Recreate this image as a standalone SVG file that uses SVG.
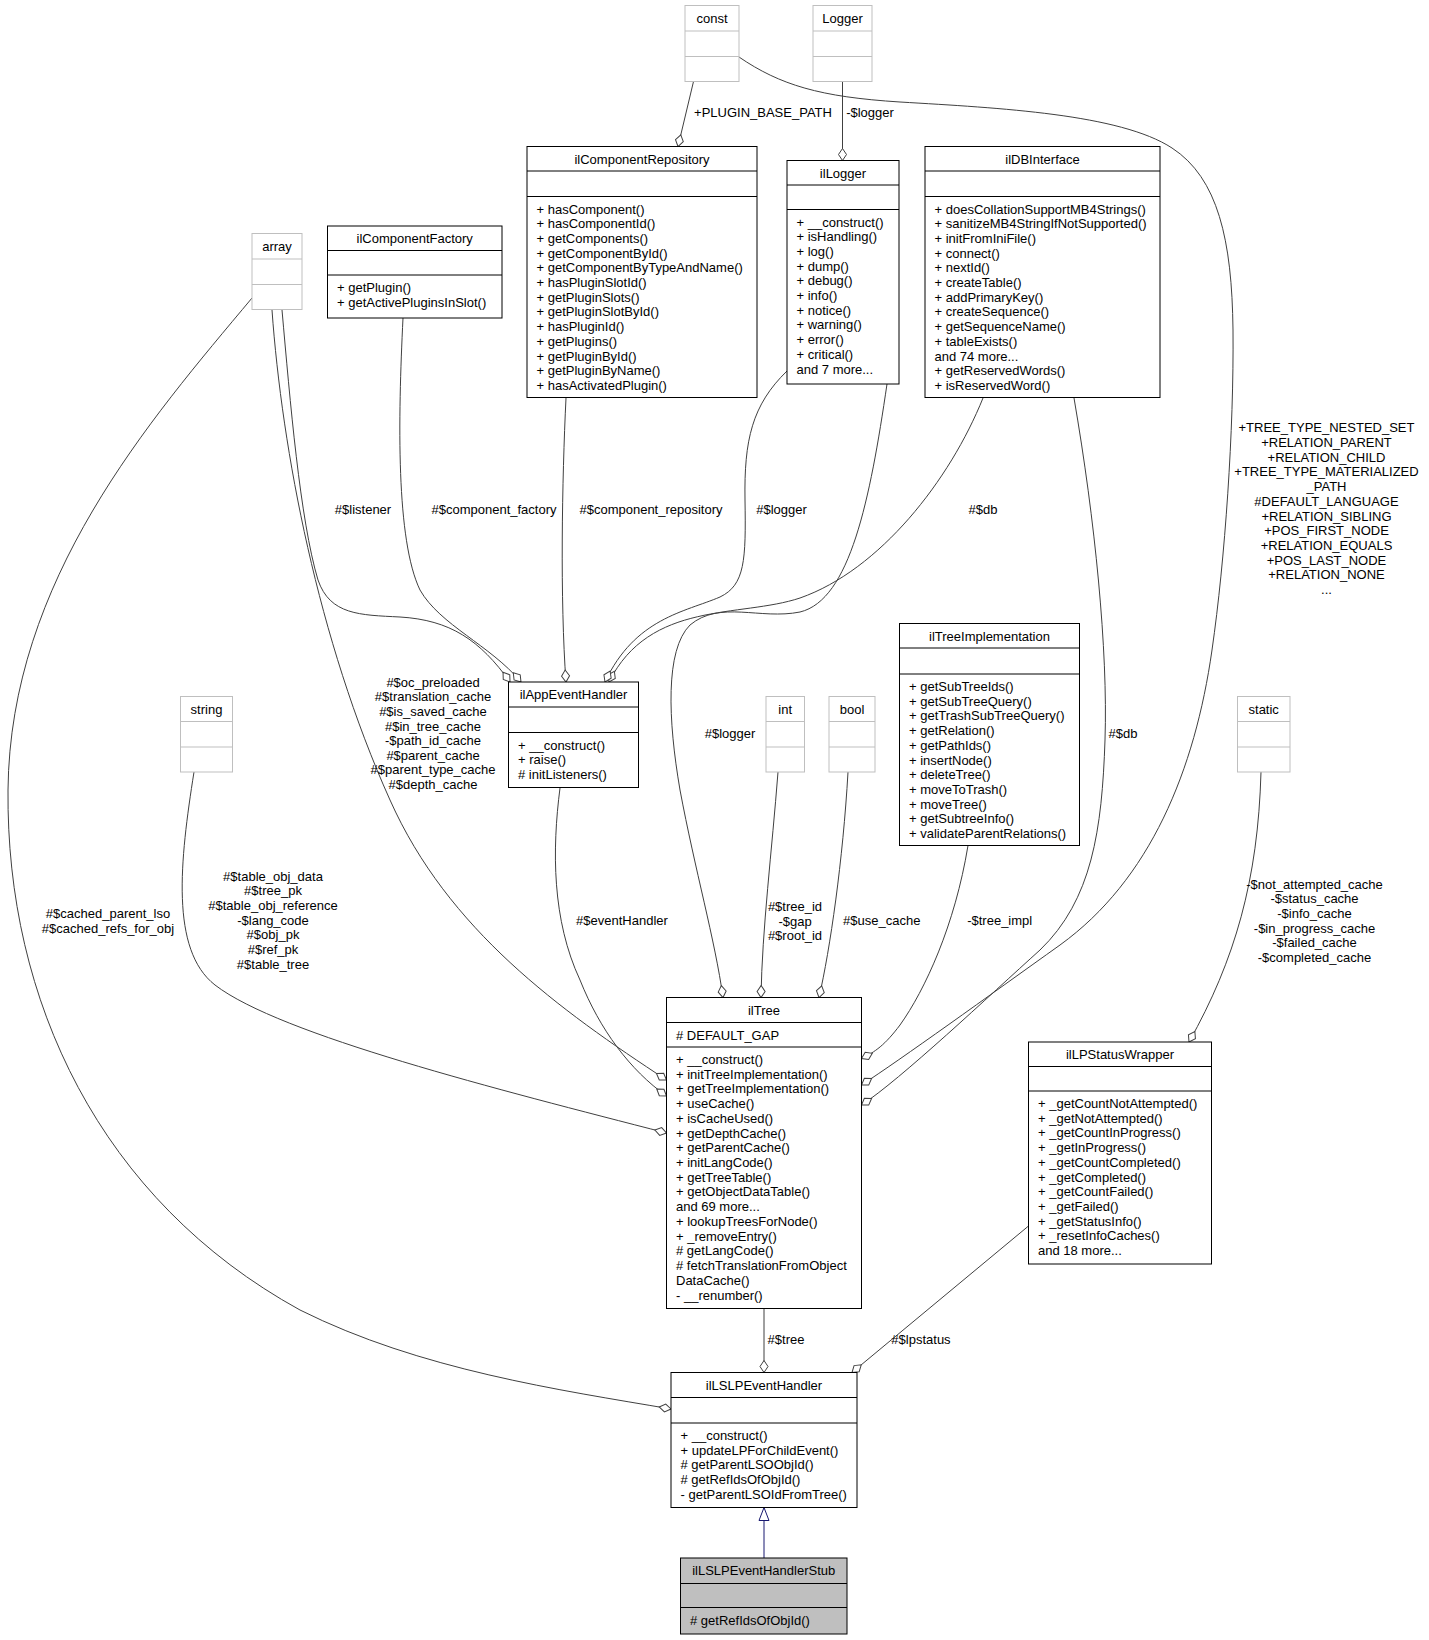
<svg xmlns="http://www.w3.org/2000/svg" width="1429" height="1640" viewBox="0 0 1429 1640">
<style>
text{font-family:"Liberation Sans",Arial,Helvetica,sans-serif;font-size:13px;fill:#000}
.c{text-anchor:middle}
.b{fill:#fff;stroke:#000;stroke-width:1}
.bl{stroke:#000;stroke-width:1}
.g{fill:#fff;stroke:#bfbfbf;stroke-width:1}
.gl{stroke:#bfbfbf;stroke-width:1}
.s{fill:#bfbfbf;stroke:#000;stroke-width:1}
.e{fill:none;stroke:#404040;stroke-width:1;marker-end:url(#d)}
.i{fill:none;stroke:#191970;stroke-width:1;marker-end:url(#t)}
</style>
<defs>
<marker id="d" markerUnits="userSpaceOnUse" markerWidth="16" markerHeight="12" refX="13" refY="6" orient="auto" viewBox="0 0 16 12"><path d="M1,6 L7,2 L13,6 L7,10 Z" fill="#fff" stroke="#404040"/></marker>
<marker id="t" markerUnits="userSpaceOnUse" markerWidth="16" markerHeight="14" refX="14" refY="7" orient="auto" viewBox="0 0 16 14"><path d="M1,2 L14,7 L1,12 Z" fill="#fff" stroke="#191970"/></marker>
</defs>
<rect width="1429" height="1640" fill="#fff"/>

<g id="edges">
<path class="e" d="M693.5,81.5 L678,146.5"/>
<path class="e" d="M842.5,81.5 L842.5,160.5"/>
<path class="e" d="M739,57 C780,85 820,97 900,102 C1000,108 1120,114 1172,148 C1218,178 1232,240 1233,330 C1234,430 1225,560 1212,650 C1195,770 1150,880 1060,945 C990,995 900,1060 861.5,1085"/>
<path class="e" d="M1074,398 C1095,520 1108,650 1105,740 C1102,830 1092,900 1040,950 C990,995 900,1080 861.5,1105"/>
<path class="e" d="M968,845.5 C955,925 925,990 900,1025 C885,1045 875,1052 861.5,1058.5"/>
<path class="e" d="M983,398 C950,480 880,570 800,598 C740,618 650,600 609,682"/>
<path class="e" d="M787,371 C752,405 744,440 745,500 C746,560 745,585 720,597 C685,612 635,618 605,682"/>
<path class="e" d="M887,384 C870,500 850,600 800,612 C760,620 720,600 690,625 C665,650 668,720 680,790 C695,870 715,940 723,997.5"/>
<path class="e" d="M566,398 C562,480 560,600 566,682"/>
<path class="e" d="M403,318 C398,420 396,540 420,590 C440,625 490,645 521,682"/>
<path class="e" d="M282,310 C290,400 300,520 318,580 C330,615 360,615 400,617 C450,620 480,640 510,682"/>
<path class="e" d="M272,310 C282,450 318,640 390,800 C448,930 560,1010 666.5,1080"/>
<path class="e" d="M560,788 C552,850 552,920 580,980 C600,1030 630,1070 666.5,1096"/>
<path class="e" d="M194,772 C180,860 170,950 215,985 C280,1035 500,1090 666.5,1133"/>
<path class="e" d="M252,298 C150,420 10,580 8,790 C6,1000 100,1200 300,1310 C420,1370 560,1390 671,1409"/>
<path class="e" d="M778,772 C772,850 762,930 761,997.5"/>
<path class="e" d="M848,772 C843,860 830,950 819,997.5"/>
<path class="e" d="M1261,772 C1258,880 1235,960 1189,1042"/>
<path class="e" d="M764,1308.5 L764,1372.5"/>
<path class="e" d="M1028.5,1226 L852,1372.5"/>
<path class="i" d="M764,1558 L764,1507.5"/>

<text class="c" x="763" y="116.5">+PLUGIN_BASE_PATH</text>
<text class="c" x="870" y="116.5">-$logger</text>
<text class="c" x="363" y="513.5">#$listener</text>
<text class="c" x="494" y="513.5">#$component_factory</text>
<text class="c" x="651" y="513.5">#$component_repository</text>
<text class="c" x="781.5" y="513.5">#$logger</text>
<text class="c" x="983" y="513.5">#$db</text>
<text class="c" x="1326.5" y="432.3"><tspan x="1326.5" dy="0">+TREE_TYPE_NESTED_SET</tspan><tspan x="1326.5" dy="14.7">+RELATION_PARENT</tspan><tspan x="1326.5" dy="14.7">+RELATION_CHILD</tspan><tspan x="1326.5" dy="14.7">+TREE_TYPE_MATERIALIZED</tspan><tspan x="1326.5" dy="14.7">_PATH</tspan><tspan x="1326.5" dy="14.7">#DEFAULT_LANGUAGE</tspan><tspan x="1326.5" dy="14.7">+RELATION_SIBLING</tspan><tspan x="1326.5" dy="14.7">+POS_FIRST_NODE</tspan><tspan x="1326.5" dy="14.7">+RELATION_EQUALS</tspan><tspan x="1326.5" dy="14.7">+POS_LAST_NODE</tspan><tspan x="1326.5" dy="14.7">+RELATION_NONE</tspan><tspan x="1326.5" dy="14.7">...</tspan></text>
<text class="c" x="433" y="686.8"><tspan x="433" dy="0">#$oc_preloaded</tspan><tspan x="433" dy="14.6">#$translation_cache</tspan><tspan x="433" dy="14.6">#$is_saved_cache</tspan><tspan x="433" dy="14.6">#$in_tree_cache</tspan><tspan x="433" dy="14.6">-$path_id_cache</tspan><tspan x="433" dy="14.6">#$parent_cache</tspan><tspan x="433" dy="14.6">#$parent_type_cache</tspan><tspan x="433" dy="14.6">#$depth_cache</tspan></text>
<text class="c" x="730" y="737.8">#$logger</text>
<text class="c" x="1123" y="737.5">#$db</text>
<text class="c" x="795" y="911"><tspan x="795" dy="0">#$tree_id</tspan><tspan x="795" dy="14.5">-$gap</tspan><tspan x="795" dy="14.5">#$root_id</tspan></text>
<text class="c" x="881.7" y="925.2">#$use_cache</text>
<text class="c" x="999.7" y="925.2">-$tree_impl</text>
<text class="c" x="622" y="925.2">#$eventHandler</text>
<text class="c" x="273" y="880.5"><tspan x="273" dy="0">#$table_obj_data</tspan><tspan x="273" dy="14.7">#$tree_pk</tspan><tspan x="273" dy="14.7">#$table_obj_reference</tspan><tspan x="273" dy="14.7">-$lang_code</tspan><tspan x="273" dy="14.7">#$obj_pk</tspan><tspan x="273" dy="14.7">#$ref_pk</tspan><tspan x="273" dy="14.7">#$table_tree</tspan></text>
<text class="c" x="108" y="917.8"><tspan x="108" dy="0">#$cached_parent_lso</tspan><tspan x="108" dy="14.7">#$cached_refs_for_obj</tspan></text>
<text class="c" x="1314.5" y="888.5"><tspan x="1314.5" dy="0">-$not_attempted_cache</tspan><tspan x="1314.5" dy="14.7">-$status_cache</tspan><tspan x="1314.5" dy="14.7">-$info_cache</tspan><tspan x="1314.5" dy="14.7">-$in_progress_cache</tspan><tspan x="1314.5" dy="14.7">-$failed_cache</tspan><tspan x="1314.5" dy="14.7">-$completed_cache</tspan></text>
<text class="c" x="786" y="1343.8">#$tree</text>
<text class="c" x="921" y="1343.8">#$lpstatus</text>
</g>

<g id="const">
<rect class="g" x="685" y="5.5" width="54" height="76"/>
<line class="gl" x1="685" y1="31" x2="739" y2="31"/><line class="gl" x1="685" y1="56.5" x2="739" y2="56.5"/>
<text class="c" x="712" y="22.5">const</text>
</g>
<g id="Logger">
<rect class="g" x="813" y="5.5" width="59" height="76"/>
<line class="gl" x1="813" y1="31" x2="872" y2="31"/><line class="gl" x1="813" y1="56.5" x2="872" y2="56.5"/>
<text class="c" x="842.5" y="22.5">Logger</text>
</g>
<g id="ilComponentRepository">
<rect class="b" x="527" y="146.5" width="230" height="251"/>
<line class="bl" x1="527" y1="171" x2="757" y2="171"/><line class="bl" x1="527" y1="196.5" x2="757" y2="196.5"/>
<text class="c" x="642" y="163.5">ilComponentRepository</text>
<text x="536.5" y="213.5"><tspan x="536.5" dy="0">+ hasComponent()</tspan><tspan x="536.5" dy="14.7">+ hasComponentId()</tspan><tspan x="536.5" dy="14.7">+ getComponents()</tspan><tspan x="536.5" dy="14.7">+ getComponentById()</tspan><tspan x="536.5" dy="14.7">+ getComponentByTypeAndName()</tspan><tspan x="536.5" dy="14.7">+ hasPluginSlotId()</tspan><tspan x="536.5" dy="14.7">+ getPluginSlots()</tspan><tspan x="536.5" dy="14.7">+ getPluginSlotById()</tspan><tspan x="536.5" dy="14.7">+ hasPluginId()</tspan><tspan x="536.5" dy="14.7">+ getPlugins()</tspan><tspan x="536.5" dy="14.7">+ getPluginById()</tspan><tspan x="536.5" dy="14.7">+ getPluginByName()</tspan><tspan x="536.5" dy="14.7">+ hasActivatedPlugin()</tspan></text>
</g>
<g id="ilLogger">
<rect class="b" x="787" y="160.5" width="112" height="223.5"/>
<line class="bl" x1="787" y1="185" x2="899" y2="185"/><line class="bl" x1="787" y1="209.5" x2="899" y2="209.5"/>
<text class="c" x="843" y="177.5">ilLogger</text>
<text x="796.5" y="226.5"><tspan x="796.5" dy="0">+ __construct()</tspan><tspan x="796.5" dy="14.7">+ isHandling()</tspan><tspan x="796.5" dy="14.7">+ log()</tspan><tspan x="796.5" dy="14.7">+ dump()</tspan><tspan x="796.5" dy="14.7">+ debug()</tspan><tspan x="796.5" dy="14.7">+ info()</tspan><tspan x="796.5" dy="14.7">+ notice()</tspan><tspan x="796.5" dy="14.7">+ warning()</tspan><tspan x="796.5" dy="14.7">+ error()</tspan><tspan x="796.5" dy="14.7">+ critical()</tspan><tspan x="796.5" dy="14.7">and 7 more...</tspan></text>
</g>
<g id="ilDBInterface">
<rect class="b" x="925" y="146.5" width="235" height="251"/>
<line class="bl" x1="925" y1="171" x2="1160" y2="171"/><line class="bl" x1="925" y1="196.5" x2="1160" y2="196.5"/>
<text class="c" x="1042.5" y="163.5">ilDBInterface</text>
<text x="934.5" y="213.5"><tspan x="934.5" dy="0">+ doesCollationSupportMB4Strings()</tspan><tspan x="934.5" dy="14.7">+ sanitizeMB4StringIfNotSupported()</tspan><tspan x="934.5" dy="14.7">+ initFromIniFile()</tspan><tspan x="934.5" dy="14.7">+ connect()</tspan><tspan x="934.5" dy="14.7">+ nextId()</tspan><tspan x="934.5" dy="14.7">+ createTable()</tspan><tspan x="934.5" dy="14.7">+ addPrimaryKey()</tspan><tspan x="934.5" dy="14.7">+ createSequence()</tspan><tspan x="934.5" dy="14.7">+ getSequenceName()</tspan><tspan x="934.5" dy="14.7">+ tableExists()</tspan><tspan x="934.5" dy="14.7">and 74 more...</tspan><tspan x="934.5" dy="14.7">+ getReservedWords()</tspan><tspan x="934.5" dy="14.7">+ isReservedWord()</tspan></text>
</g>
<g id="array">
<rect class="g" x="252" y="233.5" width="50" height="76"/>
<line class="gl" x1="252" y1="259" x2="302" y2="259"/><line class="gl" x1="252" y1="284.5" x2="302" y2="284.5"/>
<text class="c" x="277" y="250.5">array</text>
</g>
<g id="ilComponentFactory">
<rect class="b" x="327.5" y="226" width="174.5" height="92"/>
<line class="bl" x1="327.5" y1="250.5" x2="502" y2="250.5"/><line class="bl" x1="327.5" y1="275" x2="502" y2="275"/>
<text class="c" x="414.7" y="243">ilComponentFactory</text>
<text x="337" y="292"><tspan x="337" dy="0">+ getPlugin()</tspan><tspan x="337" dy="14.7">+ getActivePluginsInSlot()</tspan></text>
</g>
<g id="ilAppEventHandler">
<rect class="b" x="508.5" y="682" width="130" height="105.5"/>
<line class="bl" x1="508.5" y1="707" x2="638.5" y2="707"/><line class="bl" x1="508.5" y1="732.5" x2="638.5" y2="732.5"/>
<text class="c" x="573.5" y="699">ilAppEventHandler</text>
<text x="518" y="749.5"><tspan x="518" dy="0">+ __construct()</tspan><tspan x="518" dy="14.7">+ raise()</tspan><tspan x="518" dy="14.7"># initListeners()</tspan></text>
</g>
<g id="string">
<rect class="g" x="180.5" y="696.5" width="52" height="75.5"/>
<line class="gl" x1="180.5" y1="721.5" x2="232.5" y2="721.5"/><line class="gl" x1="180.5" y1="747" x2="232.5" y2="747"/>
<text class="c" x="206.5" y="713.5">string</text>
</g>
<g id="int">
<rect class="g" x="766" y="696.5" width="38.5" height="75.5"/>
<line class="gl" x1="766" y1="721.5" x2="804.5" y2="721.5"/><line class="gl" x1="766" y1="747" x2="804.5" y2="747"/>
<text class="c" x="785.2" y="713.5">int</text>
</g>
<g id="bool">
<rect class="g" x="829" y="696.5" width="46" height="75.5"/>
<line class="gl" x1="829" y1="721.5" x2="875" y2="721.5"/><line class="gl" x1="829" y1="747" x2="875" y2="747"/>
<text class="c" x="852" y="713.5">bool</text>
</g>
<g id="static">
<rect class="g" x="1237.5" y="696.5" width="52.5" height="75.5"/>
<line class="gl" x1="1237.5" y1="721.5" x2="1290" y2="721.5"/><line class="gl" x1="1237.5" y1="747" x2="1290" y2="747"/>
<text class="c" x="1263.7" y="713.5">static</text>
</g>
<g id="ilTreeImplementation">
<rect class="b" x="899.5" y="623.5" width="180" height="222"/>
<line class="bl" x1="899.5" y1="648" x2="1079.5" y2="648"/><line class="bl" x1="899.5" y1="674" x2="1079.5" y2="674"/>
<text class="c" x="989.5" y="640.5">ilTreeImplementation</text>
<text x="909" y="691"><tspan x="909" dy="0">+ getSubTreeIds()</tspan><tspan x="909" dy="14.7">+ getSubTreeQuery()</tspan><tspan x="909" dy="14.7">+ getTrashSubTreeQuery()</tspan><tspan x="909" dy="14.7">+ getRelation()</tspan><tspan x="909" dy="14.7">+ getPathIds()</tspan><tspan x="909" dy="14.7">+ insertNode()</tspan><tspan x="909" dy="14.7">+ deleteTree()</tspan><tspan x="909" dy="14.7">+ moveToTrash()</tspan><tspan x="909" dy="14.7">+ moveTree()</tspan><tspan x="909" dy="14.7">+ getSubtreeInfo()</tspan><tspan x="909" dy="14.7">+ validateParentRelations()</tspan></text>
</g>
<g id="ilTree">
<rect class="b" x="666.5" y="997.5" width="195" height="311"/>
<line class="bl" x1="666.5" y1="1022.5" x2="861.5" y2="1022.5"/><line class="bl" x1="666.5" y1="1047" x2="861.5" y2="1047"/>
<text class="c" x="764" y="1014.5">ilTree</text>
<text x="676" y="1039.5"># DEFAULT_GAP</text>
<text x="676" y="1064"><tspan x="676" dy="0">+ __construct()</tspan><tspan x="676" dy="14.72">+ initTreeImplementation()</tspan><tspan x="676" dy="14.72">+ getTreeImplementation()</tspan><tspan x="676" dy="14.72">+ useCache()</tspan><tspan x="676" dy="14.72">+ isCacheUsed()</tspan><tspan x="676" dy="14.72">+ getDepthCache()</tspan><tspan x="676" dy="14.72">+ getParentCache()</tspan><tspan x="676" dy="14.72">+ initLangCode()</tspan><tspan x="676" dy="14.72">+ getTreeTable()</tspan><tspan x="676" dy="14.72">+ getObjectDataTable()</tspan><tspan x="676" dy="14.72">and 69 more...</tspan><tspan x="676" dy="14.72">+ lookupTreesForNode()</tspan><tspan x="676" dy="14.72">+ _removeEntry()</tspan><tspan x="676" dy="14.72"># getLangCode()</tspan><tspan x="676" dy="14.72"># fetchTranslationFromObject</tspan><tspan x="676" dy="14.72">DataCache()</tspan><tspan x="676" dy="14.72">- __renumber()</tspan></text>
</g>
<g id="ilLPStatusWrapper">
<rect class="b" x="1028.5" y="1042" width="183" height="222"/>
<line class="bl" x1="1028.5" y1="1066.5" x2="1211.5" y2="1066.5"/><line class="bl" x1="1028.5" y1="1091" x2="1211.5" y2="1091"/>
<text class="c" x="1120" y="1059">ilLPStatusWrapper</text>
<text x="1038" y="1108"><tspan x="1038" dy="0">+ _getCountNotAttempted()</tspan><tspan x="1038" dy="14.7">+ _getNotAttempted()</tspan><tspan x="1038" dy="14.7">+ _getCountInProgress()</tspan><tspan x="1038" dy="14.7">+ _getInProgress()</tspan><tspan x="1038" dy="14.7">+ _getCountCompleted()</tspan><tspan x="1038" dy="14.7">+ _getCompleted()</tspan><tspan x="1038" dy="14.7">+ _getCountFailed()</tspan><tspan x="1038" dy="14.7">+ _getFailed()</tspan><tspan x="1038" dy="14.7">+ _getStatusInfo()</tspan><tspan x="1038" dy="14.7">+ _resetInfoCaches()</tspan><tspan x="1038" dy="14.7">and 18 more...</tspan></text>
</g>
<g id="ilLSLPEventHandler">
<rect class="b" x="671" y="1372.5" width="186" height="135"/>
<line class="bl" x1="671" y1="1397.5" x2="857" y2="1397.5"/><line class="bl" x1="671" y1="1423" x2="857" y2="1423"/>
<text class="c" x="764" y="1389.5">ilLSLPEventHandler</text>
<text x="680.5" y="1440"><tspan x="680.5" dy="0">+ __construct()</tspan><tspan x="680.5" dy="14.7">+ updateLPForChildEvent()</tspan><tspan x="680.5" dy="14.7"># getParentLSOObjId()</tspan><tspan x="680.5" dy="14.7"># getRefIdsOfObjId()</tspan><tspan x="680.5" dy="14.7">- getParentLSOIdFromTree()</tspan></text>
</g>
<g id="ilLSLPEventHandlerStub">
<rect class="s" x="680.5" y="1558" width="166.5" height="76"/>
<line class="bl" x1="680.5" y1="1583.5" x2="847" y2="1583.5"/><line class="bl" x1="680.5" y1="1607.5" x2="847" y2="1607.5"/>
<text class="c" x="763.7" y="1575">ilLSLPEventHandlerStub</text>
<text x="690" y="1625"># getRefIdsOfObjId()</text>
</g>
</svg>
